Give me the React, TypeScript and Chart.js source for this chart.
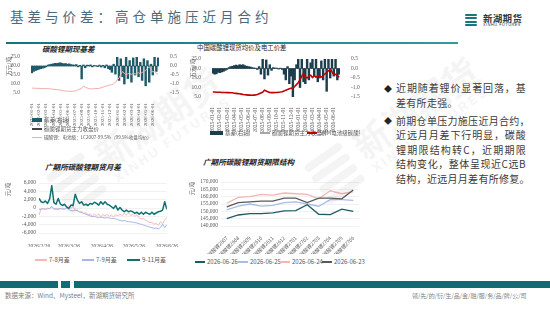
import React, { useEffect, useRef } from "react";
import { Chart, registerables } from "chart.js";
Chart.register(...registerables);

const SERIF = "'Liberation Serif','Noto Sans CJK SC',serif";
const CJK = "'Noto Sans CJK SC','Liberation Serif',sans-serif";

const months = [
  "2025-01-01", "2025-02-01", "2025-03-01", "2025-04-01", "2025-05-01", "2025-06-01",
  "2025-07-01", "2025-08-01", "2025-09-01", "2025-10-01", "2025-11-01", "2025-12-01",
  "2026-01-01", "2026-02-01", "2026-03-01", "2026-04-01", "2026-05-01", "2026-06-01",
];
const WEEKS = 4;

const lcBatteryPrice = [
  7.7, 7.7, 7.6, 7.6, 7.6, 7.5, 7.5, 7.5, 7.4, 7.4, 7.3, 7.3, 7.1, 7.0, 6.9, 6.8,
  6.6, 6.4, 6.2, 6.1, 6.0, 6.0, 5.9, 6.0, 6.1, 6.3, 6.8, 7.2, 7.6, 8.8, 8.3, 7.8,
  7.4, 7.3, 7.3, 7.4, 7.5, 7.5, 7.6, 7.9, 8.2, 8.7, 8.9, 9.2, 9.5, 9.6, 10.2, 11.0,
  12.2, 13.4, 15.2, 17.0, 15.8, 15.2, 15.6, 16.3, 15.0, 16.2, 15.5, 16.0,
  16.2, 15.6, 16.4, 17.0, 17.5, 18.5, 19.6, 18.0, 16.6, 17.2, 16.0, 15.4,
];
const basisFutures = [
  -0.38, -0.3, -0.25, -0.22, -0.18, -0.15, -0.12, -0.1, -0.05, 0.05, 0.08, 0.1,
  0.12, 0.15, 0.14, 0.16, 0.18, 0.15, 0.12, 0.14, 0.1, 0.12, 0.08, 0.06,
  0.05, 0.08, -0.05, 0.04, -0.72, 0.06, -0.1, 0.05, 0.04, 0.06, -0.05, 0.03,
  0.02, -0.04, 0.05, -0.06, 0.04, -0.1, 0.06, -0.15, -0.2, -0.35, 0.1, -0.45,
  0.5, -0.8, 0.4, -0.6, -1.0, 0.5, -0.7, 0.3, -0.9, 0.45, -0.5, 0.5,
  -0.6, 0.2, -0.8, 0.4, -1.1, 0.3, -0.9, 0.1, -0.5, 0.5, -0.3, 0.45,
];
const futuresMainClose: number[] = [];

const smmBatteryPrice = [
  7.6, 7.6, 7.5, 7.5, 7.5, 7.4, 7.4, 7.4, 7.3, 7.3, 7.2, 7.2, 7.0, 6.9, 6.8, 6.7,
  6.5, 6.3, 6.2, 6.1, 6.0, 6.0, 5.9, 6.0, 6.1, 6.3, 6.7, 7.1, 7.5, 8.6, 8.2, 7.7,
  7.4, 7.3, 7.3, 7.4, 7.4, 7.5, 7.6, 7.8, 8.1, 8.6, 8.9, 9.3, 9.6, 9.8, 10.5, 11.5,
  12.5, 14.0, 16.0, 17.5, 15.5, 15.0, 15.8, 16.5, 15.2, 16.3, 15.4, 16.1,
  16.0, 15.5, 16.3, 17.2, 17.8, 18.8, 19.6, 18.2, 16.8, 17.0, 16.2, 15.4,
];
const basisSpot = [
  -0.25, -0.3, -0.28, -0.2, -0.22, -0.18, -0.15, -0.1, -0.05, 0.05, 0.1, 0.12,
  0.15, 0.18, 0.15, 0.2, 0.18, 0.2, 0.15, 0.12, 0.1, 0.08, 0.05, 0.03,
  0.02, -0.05, 0.1, -0.3, 0.5, -0.55, 0.45, -0.35, 0.2, -0.1, 0.05, 0.02,
  0.02, -0.03, 0.02, -0.05, -0.3, -0.6, 0.1, -0.8, -0.4, -1.5, -0.6, 0.2,
  0.5, -1.0, 0.5, -0.7, -0.8, 0.5, -0.6, 0.3, 0.5, -0.4, 0.5, -0.7,
  -0.5, 0.4, -0.6, 0.5, -1.2, 0.5, -0.5, 0.5, -0.4, 0.5, -0.6, -0.3,
];
const futuresMainClose2: number[] = [];

const spreadTickDates = ["2026/2/26", "2026/3/26", "2026/4/26", "2026/5/26", "2026/6/26"];
const SPREAD_STEP_DAYS = 2;
const spread78 = [
  -1700, -200, -100, -300, 0, -200, 200, -300, -100, -400,
  -200, 0, -300, 200, 500, -100, 400, -600, -500, -1000,
  -800, -1300, -1100, -1700, -1400, -2000, -1500, -1800, -1400, -2100,
  -1600, -1900, -1500, -2000, -1700, -2200, -1600, -1900, -1500, -1800,
  -1300, -1700, -1200, -1800, -1500, -2000, -1600, -2400, -2600, -2500,
  -2900, -3200, -3500, -3400, -3900, -3700, -4200, -3300, -3800, -2800, -2300,
];
const spread79 = [
  -300, -300, -200, -300, -200, -100, 400, -200, -300, -200,
  -100, -300, -200, -100, -400, -600, -700, -500, -700, -900,
  -1100, -1300, -1500, -1700, -1900, -2100, -2000, -2200, -2300, -2200,
  -2300, -2400, -2300, -2400, -2500, -2500, -2600, -2800, -3000, -3100,
  -3000, -3200, -3300, -3300, -3400, -3500, -3600, -3800, -3900, -4100,
  -4300, -4400, -4600, -4700, -4900, -4800, -5000, -4700, -3900, -4700, -4000,
];
const spread911 = [
  2300, 1500, 1300, 1700, 1100, 2200, 5400, 1300, 900, 2300,
  1000, 600, 900, 200, -100, 700, 600, 3300, 1900, 1100,
  1500, 700, 900, 600, 1100, 900, 1400, 1100, 700, 1500,
  900, 1500, 900, 700, 300, -100, 600, -500, 100, -500,
  -900, -500, -900, -700, -900, -1300, -1000, -1500, -1000, -1500,
  -1000, -1300, -1500, -1000, -1500, -1200, -900, -800, -500, 1500, -300,
];

const contracts = [
  "碳酸锂2607", "碳酸锂2608", "碳酸锂2609", "碳酸锂2610", "碳酸锂2611", "碳酸锂2612",
  "碳酸锂2701", "碳酸锂2702", "碳酸锂2703", "碳酸锂2704", "碳酸锂2705", "碳酸锂2706",
];
const curve0626 = [145000, 147500, 148500, 148500, 149000, 150300, 150500, 154500, 148000, 147800, 151500, 150000];
const curve0625 = [151000, 153500, 155000, 153500, 154000, 156000, 156500, 155000, 153500, 158000, 158000, 157500];
const curve0624 = [155500, 159500, 160000, 161500, 161000, 162500, 162000, 161500, 158500, 164000, 162000, 163500];
const curve0623 = [153000, 156000, 156500, 157000, 157000, 159000, 159000, 156000, 159000, 159000, 158500, 164500];

const TICK_COLOR = "#595959";
const fixW = (w: number) => (s: any) => { s.width = w; };
const fixH = (h: number) => (s: any) => { s.height = h; };
const tickFont = (size: number) => ({ family: SERIF, size });
const fmtThousands = (v: any) => Number(v).toLocaleString("en-US");

function dayOffset(d: string) {
  const p = (s: string) => { const [y, m, dd] = s.split("/").map(Number); return Date.UTC(y, m - 1, dd); };
  return Math.round((p(d) - p(spreadTickDates[0])) / 86400000);
}

function basisConfig(o: any): any {
  const labels = months.flatMap((m) => Array(WEEKS).fill(m));
  return {
    type: "bar",
    data: {
      labels,
      datasets: [
        { type: "line", label: o.priceLabel, data: o.price, yAxisID: "y", borderColor: o.priceColor, borderWidth: o.priceWidth, pointRadius: 0, order: 1, borderJoinStyle: "round" },
        { type: "line", label: "碳酸锂期货主力收盘价", data: o.futures, yAxisID: "y", borderColor: "#404040", borderWidth: 1, pointRadius: 0, order: 2 },
        { type: "bar", label: "基差(右轴)", data: o.basis, yAxisID: "y1", backgroundColor: o.barColor, barPercentage: 1, categoryPercentage: 1, order: 3 },
      ],
    },
    options: {
      responsive: false, animation: false, devicePixelRatio: 1,
      layout: { padding: { top: o.padTop, left: 0, right: 0, bottom: 0 } },
      plugins: { legend: { display: false }, tooltip: { enabled: false } },
      scales: {
        x: {
          grid: { display: false }, border: { display: false },
          ticks: {
            autoSkip: false, minRotation: 90, maxRotation: 90, padding: 2, font: tickFont(o.xFont), color: TICK_COLOR,
            callback: (_v: any, i: number) => (i % WEEKS === 0 ? months[i / WEEKS] : ""),
          },
          afterFit: fixH(o.xH),
        },
        y: {
          position: "left", min: 5, max: 25,
          grid: { display: false }, border: { display: false },
          ticks: { autoSkip: false, stepSize: 5, padding: 3, font: tickFont(5.5), color: TICK_COLOR, callback: (v: any) => Number(v).toFixed(1) },
          title: { display: true, text: "万元/吨", align: "end", font: { family: CJK, size: 5.5 }, color: TICK_COLOR, padding: { top: o.titlePad, bottom: 0 } },
          afterFit: fixW(o.leftW),
        },
        y1: {
          position: "right", min: -1.5, max: 0.5,
          grid: { display: false }, border: { display: false },
          ticks: { autoSkip: false, stepSize: 0.5, padding: 3, font: tickFont(5.5), color: TICK_COLOR, callback: (v: any) => Number(v).toFixed(1) },
          afterFit: fixW(o.rightW),
        },
      },
    },
  };
}

function spreadConfig(): any {
  const pts = (arr: number[]) => arr.map((v, i) => ({ x: i * SPREAD_STEP_DAYS, y: v }));
  const tickVals = spreadTickDates.map(dayOffset);
  return {
    type: "line",
    data: {
      datasets: [
        { label: "7-8月差", data: pts(spread78), borderColor: "#f6b9b6", borderWidth: 1, pointRadius: 0, order: 3, borderJoinStyle: "round" },
        { label: "7-9月差", data: pts(spread79), borderColor: "#a7b6e6", borderWidth: 1, pointRadius: 0, order: 2, borderJoinStyle: "round" },
        { label: "9-11月差", data: pts(spread911), borderColor: "#0f7170", borderWidth: 1.5, pointRadius: 0, order: 1, borderJoinStyle: "round" },
      ],
    },
    options: {
      responsive: false, animation: false, devicePixelRatio: 1,
      layout: { padding: { top: 8, left: 0, right: 12, bottom: 0 } },
      plugins: { legend: { display: false }, tooltip: { enabled: false } },
      scales: {
        x: {
          type: "linear", min: tickVals[0], max: tickVals[tickVals.length - 1],
          grid: { display: false }, border: { display: false },
          afterBuildTicks: (s: any) => { s.ticks = tickVals.map((v) => ({ value: v })); },
          ticks: {
            autoSkip: false, maxRotation: 0, padding: 2, font: tickFont(5.5), color: TICK_COLOR,
            callback: (v: any) => { const i = tickVals.indexOf(Number(v)); return i >= 0 ? spreadTickDates[i] : ""; },
          },
          afterFit: fixH(14),
        },
        y: {
          min: -6000, max: 6000,
          grid: { color: "#e8e8e8", lineWidth: 0.6, drawTicks: false }, border: { display: false },
          ticks: { autoSkip: false, stepSize: 2000, padding: 3, font: tickFont(5.5), color: TICK_COLOR, callback: fmtThousands },
          title: { display: true, text: "元/吨", align: "end", font: { family: CJK, size: 5.5 }, color: TICK_COLOR, padding: { top: 5, bottom: 0 } },
          afterFit: fixW(39),
        },
      },
    },
  };
}

function curveConfig(): any {
  const ds = (label: string, data: number[], color: string, order: number) => ({
    label, data, borderColor: color, borderWidth: 1.3, pointRadius: 0, order,
  });
  return {
    type: "line",
    data: {
      labels: contracts,
      datasets: [
        ds("2026-06-26", curve0626, "#1d5b66", 1),
        ds("2026-06-25", curve0625, "#a9bce9", 3),
        ds("2026-06-24", curve0624, "#f5b5b2", 4),
        ds("2026-06-23", curve0623, "#595959", 2),
      ],
    },
    options: {
      responsive: false, animation: false, devicePixelRatio: 1,
      layout: { padding: { top: 10, left: 0, right: 6, bottom: 0 } },
      plugins: { legend: { display: false }, tooltip: { enabled: false } },
      scales: {
        x: {
          offset: true,
          grid: { display: false }, border: { display: false },
          ticks: { autoSkip: false, minRotation: 45, maxRotation: 45, padding: 1, font: { family: CJK, size: 5 }, color: TICK_COLOR },
          afterFit: fixH(28),
        },
        y: {
          min: 140000, max: 170000,
          grid: { color: "#e8e8e8", lineWidth: 0.6, drawTicks: false }, border: { display: false },
          ticks: { autoSkip: false, stepSize: 5000, padding: 3, font: tickFont(5.5), color: TICK_COLOR, callback: fmtThousands },
          title: { display: true, text: "元/吨", align: "end", font: { family: CJK, size: 5.5 }, color: TICK_COLOR, padding: { top: 4, bottom: 0 } },
          afterFit: fixW(36),
        },
      },
    },
  };
}

function ChartCanvas({ x, y, w, h, make }: { x: number; y: number; w: number; h: number; make: () => any }) {
  const ref = useRef<HTMLCanvasElement | null>(null);
  useEffect(() => {
    const c = new Chart(ref.current as HTMLCanvasElement, make());
    return () => c.destroy();
  }, []);
  return <canvas ref={ref} width={w} height={h} style={{ position: "absolute", left: x, top: y, width: w, height: h }} />;
}

function Txt({ x, cy, size, color = "#404040", bold = false, italic = false, ls = 0, family = CJK, children, style = {} }: any) {
  return (
    <div style={{
      position: "absolute", left: x, top: cy - size * 0.6, fontSize: size, lineHeight: `${size * 1.2}px`,
      color, fontWeight: bold ? 700 : 400, fontStyle: italic ? "italic" : "normal", letterSpacing: ls,
      whiteSpace: "nowrap", fontFamily: family, ...style,
    }}>{children}</div>
  );
}

function LegendItem({ x, cy, kind, color, text, w = 10, lw = 1.2, size = 6 }: any) {
  return (
    <>
      {kind === "box"
        ? <div style={{ position: "absolute", left: x, top: cy - 2, width: w, height: 4, background: color }} />
        : <div style={{ position: "absolute", left: x, top: cy - lw / 2, width: w, height: lw, background: color }} />}
      <Txt x={x + w + 2} cy={cy} size={size} color="#595959">{text}</Txt>
    </>
  );
}

function Watermark({ x, y }: { x: number; y: number }) {
  const c = "rgba(110,110,110,0.08)";
  return (
    <div style={{ position: "absolute", left: x, top: y, width: 0, height: 0, transform: "rotate(-35deg)", transformOrigin: "0 0", pointerEvents: "none" }}>
      {[-26, -13, 0, 13].map((t, i) => (
        <div key={i} style={{ position: "absolute", left: 0, top: t, width: 44, height: 8, borderRadius: 4, background: c }} />
      ))}
      <div style={{ position: "absolute", left: 54, top: -30, fontSize: 36, lineHeight: "38px", fontWeight: 700, color: c, whiteSpace: "nowrap", fontFamily: CJK }}>新湖期货</div>
      <div style={{ position: "absolute", left: 56, top: 10, fontSize: 13, lineHeight: "14px", fontWeight: 700, color: c, whiteSpace: "nowrap", letterSpacing: 2.6, fontFamily: "'Liberation Sans',sans-serif" }}>XINHU FUTURES</div>
    </div>
  );
}

const para1 = ["近期随着锂价显著回落，基", "差有所走强。"];
const para2 = ["前期仓单压力施压近月合约，", "近远月月差下行明显，碳酸", "锂期限结构转C，近期期限", "结构变化，整体呈现近C远B", "结构，近远月月差有所修复。"];

function Paragraph({ lines, y0 }: { lines: string[]; y0: number }) {
  return (
    <>
      <Txt x={384} cy={y0} size={8} color="#222">◆</Txt>
      {lines.map((l, i) => (
        <div key={i} style={{
          position: "absolute", left: 396, top: y0 + i * 14.4 - 6, width: 130, height: 12, fontSize: 10, lineHeight: "12px",
          color: "#3a3a3a", whiteSpace: "nowrap", letterSpacing: 0.3, fontFamily: CJK,
          textAlign: "justify", textAlignLast: i < lines.length - 1 ? "justify" : "left",
        } as any}>{l}</div>
      ))}
    </>
  );
}

export default function App() {
  return (
    <div style={{ position: "fixed", left: 0, top: 0, width: 550, height: 310, background: "#fff", overflow: "hidden", fontFamily: CJK }}>
      <Txt x={10} cy={16.5} size={13.5} color="#4a6a7d" ls={4}>基差与价差：高仓单施压近月合约</Txt>
      <div style={{ position: "absolute", left: 6, top: 42, width: 452, height: 2, background: "linear-gradient(to right,#15737b,#3a9699)" }} />
      {[13.5, 17, 20.5, 24].map((t, i) => (
        <div key={i} style={{ position: "absolute", left: 465, top: t, width: 12, height: 2.4, borderRadius: 1, background: "#17777e" }} />
      ))}
      <Txt x={483} cy={18.5} size={9.5} color="#2d3a40" bold ls={0.3}>新湖期货</Txt>
      <Txt x={483} cy={25.5} size={3.8} color="#333" ls={0.55} family="'Liberation Sans',sans-serif">XINHU FUTURES</Txt>

      <Txt x={42} cy={48.5} size={7.5} color="#262626" bold italic>碳酸锂期现基差</Txt>
      <Txt x={197} cy={47.5} size={6.4} color="#262626">中国碳酸锂现货均价及电工价差</Txt>
      <Txt x={45} cy={166.5} size={7.6} color="#262626" bold italic>广期所碳酸锂期货月差</Txt>
      <Txt x={203} cy={162} size={7.6} color="#262626" bold italic>广期所碳酸锂期货期限结构</Txt>

      <ChartCanvas x={0} y={50} w={180} h={76} make={() => basisConfig({
        price: lcBatteryPrice, futures: futuresMainClose, basis: basisFutures, priceColor: "#f4aaa5", priceWidth: 1,
        barColor: "#1f5a68", priceLabel: "碳酸锂：电池级：LC2007-99.5%（99.5%收盘均价）",
        padTop: 7, xH: 33, leftW: 31, rightW: 21, xFont: 5, titlePad: 6,
      })} />
      <ChartCanvas x={185} y={52} w={175} h={80} make={() => basisConfig({
        price: smmBatteryPrice, futures: futuresMainClose2, basis: basisSpot, priceColor: "#c00000", priceWidth: 1.6,
        barColor: "#1c3d4c", priceLabel: "SMM电池级碳酸锂平均价",
        padTop: 7, xH: 35, leftW: 27, rightW: 20, xFont: 5.5, titlePad: 5,
      })} />
      <ChartCanvas x={0} y={175} w={180} h={72} make={spreadConfig} />
      <ChartCanvas x={185} y={172} w={180} h={82} make={curveConfig} />

      <LegendItem x={32} cy={120} kind="box" color="#1f5a68" text="基差(右轴)" size={5.5} />
      <LegendItem x={32} cy={129} kind="line" color="#404040" text="碳酸锂期货主力收盘价" size={5.5} />
      <LegendItem x={32} cy={137.5} kind="line" color="#f4aaa5" text="碳酸锂：电池级：LC2007-99.5%（99.5%收盘均价）" size={4.6} />

      <div style={{ position: "absolute", left: 205, top: 126, width: 155, height: 14, overflow: "hidden" }}>
        <div style={{ position: "absolute", left: -205, top: -126 }}>
          <LegendItem x={210} cy={133} kind="box" color="#1c3d4c" text="基差(右轴)" w={13} size={5.5} />
          <LegendItem x={260} cy={133} kind="line" color="#a6a6a6" text="碳酸锂期货主力收盘价" size={5.5} lw={1.5} />
          <LegendItem x={307} cy={133} kind="line" color="#c00000" text="SMM电池级碳酸锂平均价" size={5.5} lw={1.6} />
        </div>
      </div>

      <LegendItem x={35} cy={260} kind="line" color="#f6b9b6" text="7-8月差" w={12} />
      <LegendItem x={82} cy={260} kind="line" color="#a7b6e6" text="7-9月差" w={12} />
      <LegendItem x={127} cy={260} kind="line" color="#0f7170" text="9-11月差" w={13} lw={1.8} />

      <LegendItem x={195} cy={262} kind="line" color="#1d5b66" text="2026-06-26" lw={1.5} />
      <LegendItem x={238} cy={262} kind="line" color="#a9bce9" text="2026-06-25" lw={1.5} />
      <LegendItem x={280} cy={262} kind="line" color="#f5b5b2" text="2026-06-24" lw={1.5} />
      <LegendItem x={322} cy={262} kind="line" color="#595959" text="2026-06-23" lw={1.5} />

      <Paragraph lines={para1} y0={88.3} />
      <Paragraph lines={para2} y0={121} />

      <div style={{ position: "absolute", left: 0, top: 281, width: 58, height: 7, background: "#0f6b74" }} />
      <div style={{ position: "absolute", left: 61, top: 281, width: 9, height: 7, background: "#0f6b74" }} />
      <div style={{ position: "absolute", left: 74, top: 281, width: 476, height: 7, background: "#0f6b74" }} />
      <Txt x={5} cy={296} size={6.5} color="#7f7f7f">数据来源：Wind、Mysteel，新湖期货研究所</Txt>
      <Txt x={412} cy={296} size={6} color="#7f7f7f">领/先/的/衍/生/品/金/融/服/务/品/牌/公/司</Txt>

      <Watermark x={60} y={198} />
      <Watermark x={318} y={188} />
    </div>
  );
}
